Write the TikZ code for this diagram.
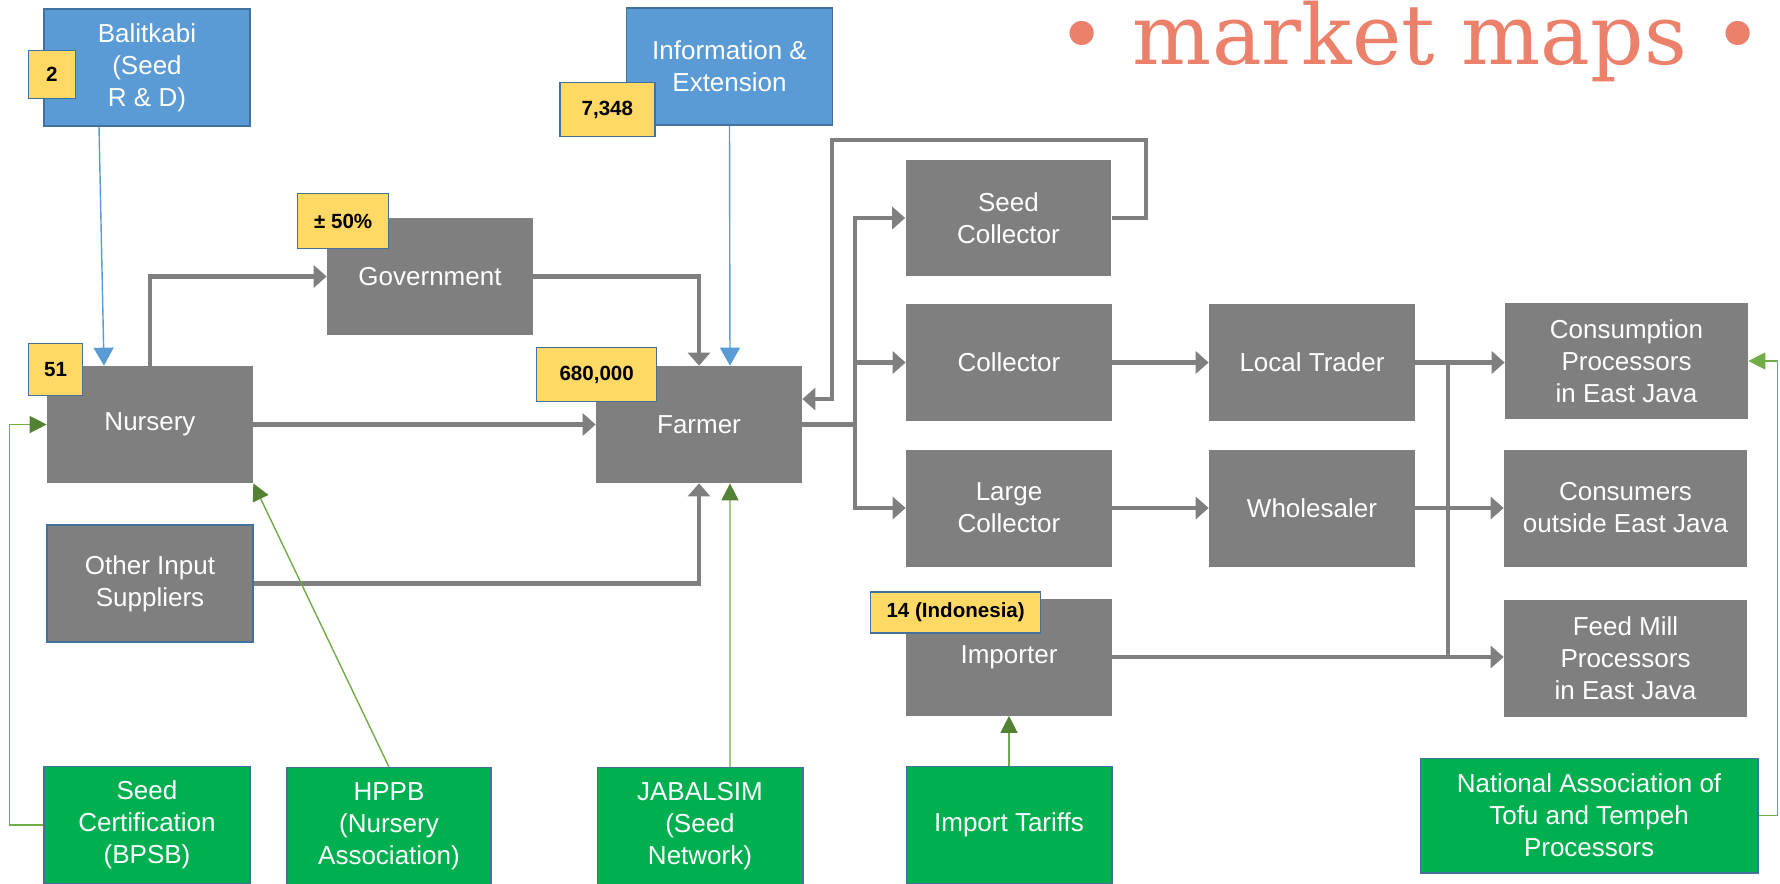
\documentclass[tikz,border=0pt]{standalone}
\usepackage{fontspec}
\setmainfont{Liberation Sans}
\newfontfamily\slabfont{DejaVu Serif}
\usetikzlibrary{arrows.meta}
\definecolor{boxgray}{HTML}{7F7F7F}
\definecolor{boxblue}{HTML}{5B9BD5}
\definecolor{edgeblue}{HTML}{41719C}
\definecolor{boxgreen}{HTML}{00B050}
\definecolor{badgeyellow}{HTML}{FFD966}
\definecolor{linegreen}{HTML}{70AD47}
\definecolor{headgreen}{HTML}{548235}
\definecolor{titlesalmon}{HTML}{EB806B}
\newcommand{\boxfont}{\fontsize{14.8}{18.2}\selectfont}
\newcommand{\badgefont}{\fontsize{11.7}{14}\selectfont\bfseries}
\newcommand{\mapstitlefont}{\fontsize{47.5}{48}\selectfont\slabfont}
\begin{document}
\begin{tikzpicture}[x=0.02cm,y=-0.02cm]
\useasboundingbox (0,0) rectangle (1780,883);
\tikzstyle{graybox} = [rectangle,draw=none,fill=boxgray,text=white,minimum width=4.12cm,minimum height=2.34cm,align=center,inner sep=2pt,font=\boxfont]
\tikzstyle{bluebox} = [graybox,fill=boxblue,draw=edgeblue,line width=0.8pt]
\tikzstyle{greenbox} = [graybox,fill=boxgreen,draw=edgeblue,line width=0.6pt]
\tikzstyle{badge} = [rectangle,draw=edgeblue,fill=badgeyellow,line width=0.8pt,text=black,inner sep=0pt,font=\badgefont]
\tikzstyle{flowline} = [draw=boxgray,line width=2.3pt]
\tikzstyle{flow} = [flowline,-{Triangle[length=0.26cm,width=0.44cm]}]
\tikzstyle{infoline} = [draw=boxblue,line width=0.8pt,-{Triangle[length=0.36cm,width=0.4cm]}]
\tikzstyle{ruleline} = [draw=linegreen,line width=0.8pt,-{Triangle[length=0.34cm,width=0.34cm,color=headgreen]}]
%%%%%%%%%%%%%%%%%%%%%%%%%%%%%
% title
%%%%%%%%%%%%%%%%%%%%%%%%%%%%%
\node (title) [anchor=base,text=titlesalmon,font=\mapstitlefont,inner sep=0pt] at (1410,64) {• market maps •};
%%%%%%%%%%%%%%%%%%%%%%%%%%%%%
% support services
%%%%%%%%%%%%%%%%%%%%%%%%%%%%%
\node [bluebox] (balit) at (147,67.5) {Balitkabi\\(Seed\\R \& D)};
\node [bluebox] (info) at (729.5,66.5) {Information \&\\Extension};
%%%%%%%%%%%%%%%%%%%%%%%%%%%%%
% value chain
%%%%%%%%%%%%%%%%%%%%%%%%%%%%%
\node [graybox] (gov) at (430,276.5) {Government};
\node [graybox] (nursery) at (150,424.5) {Nursery};
\node [graybox] (farmer) at (699,424.5) {Farmer};
\node [graybox,draw=edgeblue,line width=0.8pt] (other) at (150,583.5) {Other Input\\Suppliers};
\node [graybox] (seedcol) at (1008.5,218) {Seed\\Collector};
\node [graybox] (collector) at (1009,362.5) {Collector};
\node [graybox] (large) at (1009,508) {Large\\Collector};
\node [graybox] (importer) at (1009,657) {Importer};
\node [graybox] (trader) at (1312,362.5) {Local Trader};
\node [graybox] (wholesaler) at (1312,508) {Wholesaler};
\node [graybox,minimum width=4.86cm] (consumption) at (1626.5,361) {Consumption\\Processors\\in East Java};
\node [graybox,minimum width=4.86cm] (consumers) at (1625.5,508) {Consumers\\outside East Java};
\node [graybox,minimum width=4.86cm] (feedmill) at (1625.5,658) {Feed Mill\\Processors\\in East Java};
%%%%%%%%%%%%%%%%%%%%%%%%%%%%%
% enabling environment
%%%%%%%%%%%%%%%%%%%%%%%%%%%%%
\node [greenbox] (seedcert) at (147,825) {Seed\\Certification\\(BPSB)};
\node [greenbox,minimum width=4.08cm] (hppb) at (389,826) {HPPB\\(Nursery\\Association)};
\node [greenbox] (jabal) at (700,826) {JABALSIM\\(Seed\\Network)};
\node [greenbox] (tariffs) at (1009,825) {Import Tariffs};
\node [greenbox,minimum width=6.76cm,minimum height=2.3cm] (national) at (1589,815.5) {National Association of\\Tofu and Tempeh\\Processors};
%%%%%%%%%%%%%%%%%%%%%%%%%%%%%
% counts
%%%%%%%%%%%%%%%%%%%%%%%%%%%%%
\node (b2) [badge,minimum width=0.94cm,minimum height=0.96cm] at ([xshift=0.17cm,yshift=-1.32cm]balit.north west) {2};
\node (b7348) [badge,minimum width=1.9cm,minimum height=1.08cm] at ([xshift=-0.37cm,yshift=0.32cm]info.south west) {7,348};
\node (b50) [badge,minimum width=1.82cm,minimum height=1.1cm] at ([xshift=0.33cm,yshift=-0.07cm]gov.north west) {± 50\%};
\node (b51) [badge,minimum width=1.08cm,minimum height=1.04cm] at ([xshift=0.18cm,yshift=-0.08cm]nursery.north west) {51};
\node (b680) [badge,minimum width=2.4cm,minimum height=1.08cm] at ([xshift=0.02cm,yshift=-0.18cm]farmer.north west) {680,000};
\node (b14) [badge,minimum width=3.4cm,minimum height=0.82cm] at ([xshift=1cm,yshift=-0.29cm]importer.north west) {14 (Indonesia)};
%%%%%%%%%%%%%%%%%%%%%%%%%%%%%
% flows
%%%%%%%%%%%%%%%%%%%%%%%%%%%%%
\draw [infoline] ([xshift=-0.96cm]balit.south) -- ([xshift=-0.92cm]nursery.north);
\draw [infoline] (info.south) -- ([xshift=0.62cm]farmer.north);
\draw [flow] (nursery.north) |- (gov.west);
\draw [flow] (gov.east) -| (farmer.north);
\draw [flow] (nursery.east) -- (farmer.west);
\draw [flow] (other.east) -| (farmer.south);
\draw [flowline] (farmer.east) -- ++(1.06cm,0) coordinate (split);
\draw [flow] (split) |- (seedcol.west);
\draw [flow] (split) |- (collector.west);
\draw [flow] (split) |- (large.west);
\coordinate (loop) at (1146,140);
\draw [flow] (seedcol.east) -| (loop) -| ([xshift=0.6cm,yshift=0.51cm]farmer.east) -- ([yshift=0.51cm]farmer.east);
\draw [flow] (collector.east) -- (trader.west);
\draw [flow] (large.east) -- (wholesaler.west);
\draw [flow] (trader.east) -- (trader.east -| consumption.west);
\draw [flow] (wholesaler.east) -- (consumers.west);
\draw [flow] (importer.east) -- (importer.east -| feedmill.west);
\draw [flowline] ([xshift=0.66cm]trader.east) -- ([xshift=0.66cm]trader.east |- importer.east);
%%%%%%%%%%%%%%%%%%%%%%%%%%%%%
% rules
%%%%%%%%%%%%%%%%%%%%%%%%%%%%%
\draw [ruleline] (seedcert.west) -- ++(-0.68cm,0) |- (nursery.west);
\draw [ruleline] (hppb.north) -- (nursery.south east);
\draw [ruleline] ([xshift=0.6cm]jabal.north) -- ([xshift=0.62cm]farmer.south);
\draw [ruleline] (tariffs.north) -- (importer.south);
\draw [ruleline,-{Triangle[length=0.34cm,width=0.34cm,color=linegreen]}] (national.east) -- ++(0.38cm,0) |- (consumption.east);
\end{tikzpicture}
\end{document}
